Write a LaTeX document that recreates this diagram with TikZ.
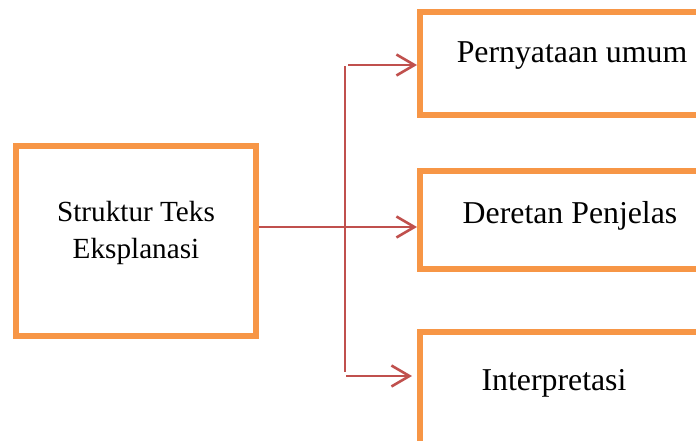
\documentclass[tikz,border=0pt]{standalone}
\usepackage{fontspec}
\setmainfont{Liberation Serif}
\usepackage{tikz}
\usetikzlibrary{arrows.meta}
\definecolor{boxorange}{HTML}{F79646}
\definecolor{linkred}{HTML}{C0504D}

\begin{document}
\begin{tikzpicture}[x=1pt,y=-1pt,
		box/.style={draw=boxorange, line width=6pt, fill=white, rectangle, inner sep=0pt},
		lefttext/.style={align=center, font=\fontsize{29.2}{37}\selectfont},
		righttext/.style={font=\fontsize{31.8}{38}\selectfont},
		stem/.style={draw=linkred, line width=1.6pt},
		link/.style={draw=linkred, line width=2.2pt, -{Straight Barb[length=18pt,width=21pt,line width=2.6pt]}}]
		\useasboundingbox (0,0) rectangle (696,440);
		\clip (0,0) rectangle (696,440);
		% boxes
		\node[box, minimum width=240pt, minimum height=190pt] (struktur) at (136,241) {};
		\node[box, minimum width=310pt, minimum height=103pt] (pernyataan) at (575,63.5) {};
		\node[box, minimum width=310pt, minimum height=98pt] (deretan) at (575,220) {};
		\node[box, minimum width=310pt, minimum height=118pt] (interpretasi) at (575,391) {};
		% texts
		\node[lefttext] (strukturtext) at (136,233) {Struktur Teks\\Eksplanasi};
		\node[righttext] (pernyataantext) at (572,56) {Pernyataan umum};
		\node[righttext] (deretantext) at (570,216) {Deretan Penjelas};
		\node[righttext] (interpretasitext) at (554,383) {Interpretasi};
		% connectors
		\coordinate (split) at (345,227);
		\coordinate (stemtop) at (345,66);
		\coordinate (stembottom) at (345,372);
		\coordinate (topstart) at (348,65);
		\coordinate (bottomstart) at (346,376);
		\draw[stem] (stemtop) -- (stembottom);
		\draw[link] (struktur.east |- split) -- (deretan.west |- split);
		\draw[link] (topstart) -- (pernyataan.west |- topstart);
		\draw[link] (bottomstart) -- ([xshift=-5pt]interpretasi.west |- bottomstart);
\end{tikzpicture}
\end{document}
